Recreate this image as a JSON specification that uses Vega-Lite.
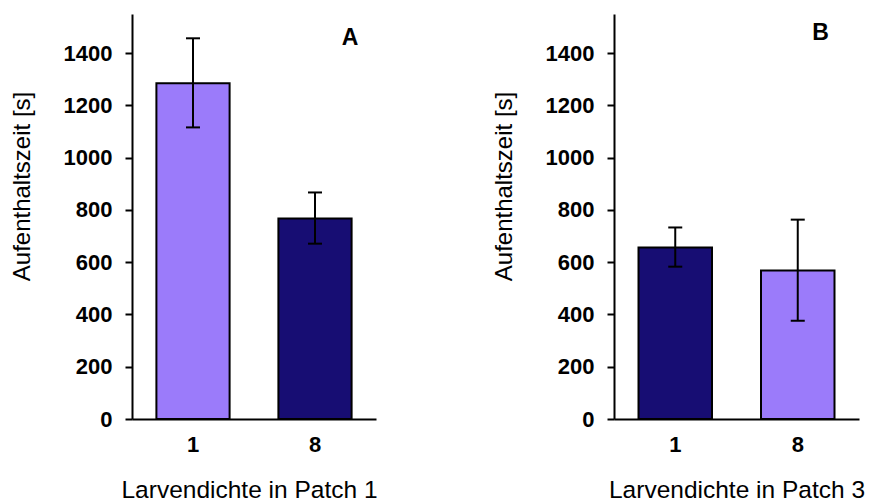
{
  "$schema": "https://vega.github.io/schema/vega-lite/v6.json",
  "padding": {"left": 10, "top": 14, "right": 5, "bottom": 0},
  "background": "white",
  "config": {
    "font": "Liberation Sans",
    "view": {"stroke": null},
    "axis": {"grid": false}
  },
  "datasets": {
    "bars": [
      {"panel": "A", "dichte": "1", "mittel": 1285, "unten": 1116, "oben": 1457, "farbe": "hell"},
      {"panel": "A", "dichte": "8", "mittel": 767, "unten": 671, "oben": 867, "farbe": "dunkel"},
      {"panel": "B", "dichte": "1", "mittel": 656, "unten": 583, "oben": 733, "farbe": "dunkel"},
      {"panel": "B", "dichte": "8", "mittel": 568, "unten": 376, "oben": 763, "farbe": "hell"}
    ],
    "labels": [
      {"panel": "A", "dichte": "8", "y": 1458, "text": "A"},
      {"panel": "B", "dichte": "8", "y": 1477, "text": "B"}
    ]
  },
  "hconcat": [
    {
      "width": 244,
      "height": 405,
      "layer": [
        {
          "data": {"name": "bars"},
          "transform": [{"filter": "datum.panel === 'A'"}],
          "mark": {"type": "bar", "stroke": "black", "strokeWidth": 2},
          "encoding": {
            "x": {"field": "dichte", "type": "nominal", "sort": ["1", "8"],
                  "scale": {"paddingInner": 0.4, "paddingOuter": 0.2},
                  "axis": {"title": "Larvendichte in Patch 1", "labelAngle": 0, "ticks": false, "labelPadding": 15,
                           "labelFontSize": 22, "labelFontWeight": "bold", "labelColor": "black",
                           "titleFontSize": 24.5, "titleFontWeight": "normal", "titleColor": "black", "titlePadding": 23, "titleX": 117,
                           "domainColor": "black", "domainWidth": 2}},
            "y": {"field": "mittel", "type": "quantitative",
                  "scale": {"domain": [0, 1550], "nice": false},
                  "axis": {"title": "Aufenthaltszeit [s]", "values": [0, 200, 400, 600, 800, 1000, 1200, 1400], "format": "d",
                           "labelFontSize": 22, "labelFontWeight": "bold", "labelColor": "black", "labelPadding": 13,
                           "tickSize": 7, "tickWidth": 2, "tickColor": "black", "domainColor": "black", "domainWidth": 2,
                           "titleFontSize": 24, "titleFontWeight": "normal", "titleColor": "black", "titlePadding": 29, "titleY": 172}},
            "color": {"field": "farbe", "type": "nominal", "scale": {"domain": ["hell", "dunkel"], "range": ["#9B7BFA", "#170D73"]}, "legend": null}
          }
        },
        {
          "data": {"name": "bars"},
          "transform": [{"filter": "datum.panel === 'A'"}],
          "mark": {"type": "rule", "color": "black", "strokeWidth": 2},
          "encoding": {
            "x": {"field": "dichte", "type": "nominal", "sort": ["1", "8"]},
            "y": {"field": "unten", "type": "quantitative"},
            "y2": {"field": "oben"}
          }
        },
        {
          "data": {"name": "bars"},
          "transform": [{"filter": "datum.panel === 'A'"}],
          "mark": {"type": "tick", "color": "black", "size": 14, "thickness": 2, "orient": "horizontal", "opacity": 1},
          "encoding": {
            "x": {"field": "dichte", "type": "nominal", "sort": ["1", "8"]},
            "y": {"field": "unten", "type": "quantitative"}
          }
        },
        {
          "data": {"name": "bars"},
          "transform": [{"filter": "datum.panel === 'A'"}],
          "mark": {"type": "tick", "color": "black", "size": 14, "thickness": 2, "orient": "horizontal", "opacity": 1},
          "encoding": {
            "x": {"field": "dichte", "type": "nominal", "sort": ["1", "8"]},
            "y": {"field": "oben", "type": "quantitative"}
          }
        },
        {
          "data": {"name": "labels"},
          "transform": [{"filter": "datum.panel === 'A'"}],
          "mark": {"type": "text", "fontSize": 23, "fontWeight": "bold", "color": "black", "align": "center", "baseline": "middle"},
          "encoding": {
            "x": {"field": "dichte", "type": "nominal", "sort": ["1", "8"], "bandPosition": 0.98},
            "y": {"field": "y", "type": "quantitative"},
            "text": {"field": "text"}
          }
        }
      ]
    },
    {
      "width": 245,
      "height": 405,
      "layer": [
        {
          "data": {"name": "bars"},
          "transform": [{"filter": "datum.panel === 'B'"}],
          "mark": {"type": "bar", "stroke": "black", "strokeWidth": 2},
          "encoding": {
            "x": {"field": "dichte", "type": "nominal", "sort": ["1", "8"],
                  "scale": {"paddingInner": 0.4, "paddingOuter": 0.2},
                  "axis": {"title": "Larvendichte in Patch 3", "labelAngle": 0, "ticks": false, "labelPadding": 15,
                           "labelFontSize": 22, "labelFontWeight": "bold", "labelColor": "black",
                           "titleFontSize": 24.5, "titleFontWeight": "normal", "titleColor": "black", "titlePadding": 23,
                           "domainColor": "black", "domainWidth": 2}},
            "y": {"field": "mittel", "type": "quantitative",
                  "scale": {"domain": [0, 1550], "nice": false},
                  "axis": {"title": "Aufenthaltszeit [s]", "values": [0, 200, 400, 600, 800, 1000, 1200, 1400], "format": "d",
                           "labelFontSize": 22, "labelFontWeight": "bold", "labelColor": "black", "labelPadding": 13,
                           "tickSize": 7, "tickWidth": 2, "tickColor": "black", "domainColor": "black", "domainWidth": 2,
                           "titleFontSize": 24, "titleFontWeight": "normal", "titleColor": "black", "titlePadding": 29, "titleY": 172}},
            "color": {"field": "farbe", "type": "nominal", "scale": {"domain": ["hell", "dunkel"], "range": ["#9B7BFA", "#170D73"]}, "legend": null}
          }
        },
        {
          "data": {"name": "bars"},
          "transform": [{"filter": "datum.panel === 'B'"}],
          "mark": {"type": "rule", "color": "black", "strokeWidth": 2},
          "encoding": {
            "x": {"field": "dichte", "type": "nominal", "sort": ["1", "8"]},
            "y": {"field": "unten", "type": "quantitative"},
            "y2": {"field": "oben"}
          }
        },
        {
          "data": {"name": "bars"},
          "transform": [{"filter": "datum.panel === 'B'"}],
          "mark": {"type": "tick", "color": "black", "size": 14, "thickness": 2, "orient": "horizontal", "opacity": 1},
          "encoding": {
            "x": {"field": "dichte", "type": "nominal", "sort": ["1", "8"]},
            "y": {"field": "unten", "type": "quantitative"}
          }
        },
        {
          "data": {"name": "bars"},
          "transform": [{"filter": "datum.panel === 'B'"}],
          "mark": {"type": "tick", "color": "black", "size": 14, "thickness": 2, "orient": "horizontal", "opacity": 1},
          "encoding": {
            "x": {"field": "dichte", "type": "nominal", "sort": ["1", "8"]},
            "y": {"field": "oben", "type": "quantitative"}
          }
        },
        {
          "data": {"name": "labels"},
          "transform": [{"filter": "datum.panel === 'B'"}],
          "mark": {"type": "text", "fontSize": 23, "fontWeight": "bold", "color": "black", "align": "center", "baseline": "middle"},
          "encoding": {
            "x": {"field": "dichte", "type": "nominal", "sort": ["1", "8"], "bandPosition": 0.81},
            "y": {"field": "y", "type": "quantitative"},
            "text": {"field": "text"}
          }
        }
      ]
    }
  ],
  "spacing": 238,
  "bounds": "flush"
}
